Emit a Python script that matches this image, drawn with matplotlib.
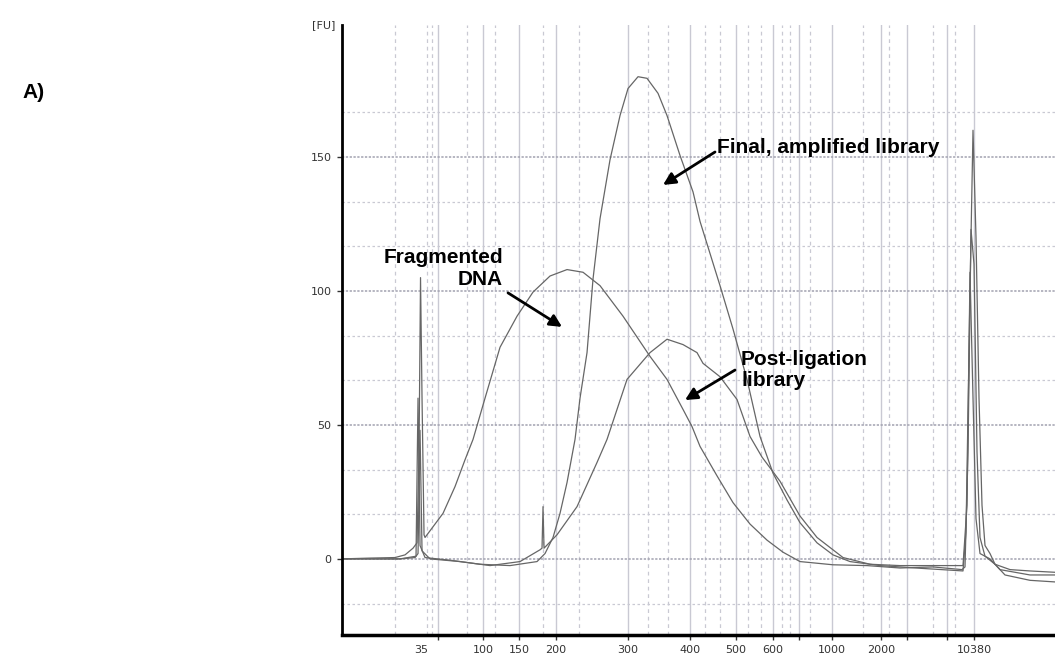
import matplotlib
matplotlib.use("Agg")
import matplotlib.pyplot as plt

# migration time axis (arbitrary units); ladder sizes mark positions on it
ladder_bp = [35, 50, 100, 150, 200, 300, 400, 500, 600, 700, 1000, 2000, 3000, 7000, 10380]
ladder_time = [7.9, 9.6, 14.1, 17.7, 21.4, 28.6, 34.8, 39.4, 43.1, 45.7, 49.0, 53.9, 56.5, 60.5, 63.2]
labelled_bp = [35, 100, 150, 200, 300, 400, 500, 600, 1000, 2000, 10380]
sub_grid_time = [5.3, 8.5, 9.0, 12.5, 15.3, 20.1, 23.7, 30.6, 32.6, 36.3, 37.8,
                 40.6, 41.9, 44.0, 44.8, 46.8, 52.1, 54.7, 59.1, 61.3]

# fragmented DNA trace
frag_t = [0.0, 2.8, 5.3, 6.3, 7.1, 7.5, 7.7, 7.85, 8.0, 8.2, 8.3, 9.1, 10.1, 11.3, 12.3,
          13.1, 14.3, 15.8, 17.5, 19.1, 20.8, 22.5, 24.1, 25.8, 28.1, 30.8, 32.5, 34.1,
          35.0, 35.8, 37.5, 39.1, 40.8, 42.5, 44.1, 45.8, 49.1, 52.5, 55.8, 59.1, 62.0,
          62.3, 62.6, 62.9, 63.2, 63.5, 63.8, 64.3, 65.3, 66.8, 68.8, 71.3]
frag_fu = [0.0, 0.3, 0.5, 1.5, 4.0, 6.0, 40.0, 105.0, 60.0, 9.0, 8.0, 12.0, 17.0, 27.0, 37.0,
           44.6, 60.0, 79.0, 90.6, 99.6, 105.6, 108.0, 107.0, 102.0, 90.6, 75.6, 67.0, 55.8,
           49.4, 42.0, 31.0, 21.0, 13.0, 7.0, 2.5, -1.0, -2.2, -2.5, -3.4, -3.0, -4.0,
           -3.0, 40.0, 123.0, 110.0, 40.0, 8.0, 1.0, -2.0, -4.0, -4.5, -5.0]

# post-ligation library trace
lig_t = [0.0, 5.8, 7.3, 7.6, 7.8, 8.0, 8.8, 11.8, 14.8, 17.8, 19.8, 20.0, 20.1, 20.2, 21.5,
         23.5, 25.5, 26.5, 28.5, 30.8, 32.5, 34.1, 35.5, 36.1, 37.8, 39.5, 40.8, 42.0,
         43.8, 45.8, 47.5, 50.1, 52.8, 55.8, 59.1, 62.1, 62.5, 62.8, 63.1, 63.4, 63.8,
         64.8, 65.8, 68.8, 71.3]
lig_fu = [0.0, 0.0, 0.5, 2.0, 48.0, 3.0, 0.0, -1.0, -2.5, -1.0, 3.4, 4.0, 19.5, 4.0, 9.0,
          19.5, 36.0, 44.6, 67.0, 77.0, 82.0, 80.0, 77.0, 73.0, 68.0, 59.5, 45.7, 38.0,
          29.0, 16.0, 8.0, 0.5, -2.0, -2.5, -2.5, -2.5, 20.0, 107.0, 60.0, 15.0, 2.0,
          0.0, -4.0, -6.0, -6.0]

# final, amplified library trace
final_t = [0.0, 5.8, 7.4, 7.6, 7.8, 8.3, 10.8, 13.8, 16.8, 19.5, 20.3, 21.1, 21.8, 22.5,
           23.3, 23.8, 24.5, 25.1, 25.8, 26.8, 27.8, 28.6, 29.6, 30.5, 31.6, 32.5, 33.8,
           35.1, 35.8, 37.8, 39.1, 40.5, 41.8, 43.1, 44.5, 45.8, 47.5, 49.1, 50.8, 53.8,
           57.8, 62.1, 62.4, 62.8, 63.1, 63.4, 63.7, 64.0, 64.3, 64.8, 65.3, 66.3, 68.8, 71.3]
final_fu = [0.0, 0.0, 1.0, 60.0, 5.0, 0.5, -0.5, -2.0, -2.5, -1.0, 2.0, 8.0, 17.0, 28.5,
            44.6, 60.0, 77.0, 104.5, 127.0, 149.0, 165.5, 175.6, 180.0, 179.4, 173.8, 165.5, 150.6,
            137.0, 126.0, 102.0, 85.8, 67.0, 45.7, 32.0, 22.0, 13.5, 6.0, 1.5, -1.0, -2.5,
            -3.5, -4.5, 10.0, 100.0, 160.0, 120.0, 60.0, 20.0, 5.0, 2.0, -2.0, -6.0, -8.0, -8.6]

y_major = [0, 50, 100, 150]
y_minor = [-16.7, 16.7, 33.3, 66.7, 83.3, 116.7, 133.3, 166.7]

fig = plt.figure(figsize=(10.55, 6.58), dpi=100)
ax = fig.add_axes([0.3242, 0.035, 0.6758, 0.927])

grid_col = "#c9c9d3"
for t in ladder_time[1:]:
    ax.axvline(t, color=grid_col, lw=1.0, zorder=0)
for t in sub_grid_time:
    ax.axvline(t, color=grid_col, lw=0.9, ls=(0, (3, 3)), zorder=0)
for y in y_minor:
    ax.axhline(y, color=grid_col, lw=0.9, ls=(0, (2, 2)), zorder=0)
for y in y_major:
    ax.axhline(y, color="#a2a2b0", lw=1.1, ls=(0, (1.5, 1)), zorder=0)

line_col = "#666666"
ax.plot(frag_t, frag_fu, color=line_col, lw=0.9)
ax.plot(lig_t, lig_fu, color=line_col, lw=0.9)
ax.plot(final_t, final_fu, color=line_col, lw=0.9)

ax.set_xlim(0, 71.3)
ax.set_ylim(-28.4, 199.3)

ax.set_xticks(ladder_time)
ax.set_xticklabels([str(b) if b in labelled_bp else "" for b in ladder_bp])
ax.get_xticklines()[0].set_visible(False)
ax.set_yticks(y_major)
ax.tick_params(axis="both", labelsize=8, labelcolor="#333333", color="#333333",
               length=3.5, width=1, pad=4)

for side in ["top", "right"]:
    ax.spines[side].set_visible(False)
ax.spines["left"].set_linewidth(2)
ax.spines["bottom"].set_linewidth(2.5)

ax.text(-0.026, 1.0, "[FU]", transform=ax.transAxes, fontsize=8, color="#333333",
        ha="center", va="center")
fig.text(0.021, 0.86, "A)", fontsize=15, fontweight="bold", family="Liberation Sans",
         ha="left", va="center")

arrow = dict(arrowstyle="-|>", lw=2, color="black", mutation_scale=18, shrinkA=0, shrinkB=0)
txt = dict(fontsize=15, fontweight="bold", family="Liberation Sans", color="black")
ax.annotate("", xy=(32.1, 139.6), xytext=(37.3, 151.9), arrowprops=arrow)
ax.text(37.5, 153.7, "Final, amplified library", ha="left", va="center", **txt)
ax.annotate("", xy=(22.0, 86.6), xytext=(16.6, 99.3), arrowprops=arrow)
ax.text(16.1, 108.4, "Fragmented\nDNA", ha="right", va="center", multialignment="right",
        linespacing=1.15, **txt)
ax.annotate("", xy=(34.3, 59.3), xytext=(39.3, 70.5), arrowprops=arrow)
ax.text(39.9, 70.5, "Post-ligation\nlibrary", ha="left", va="center", linespacing=1.15, **txt)

fig.savefig("out.png", dpi=100)
